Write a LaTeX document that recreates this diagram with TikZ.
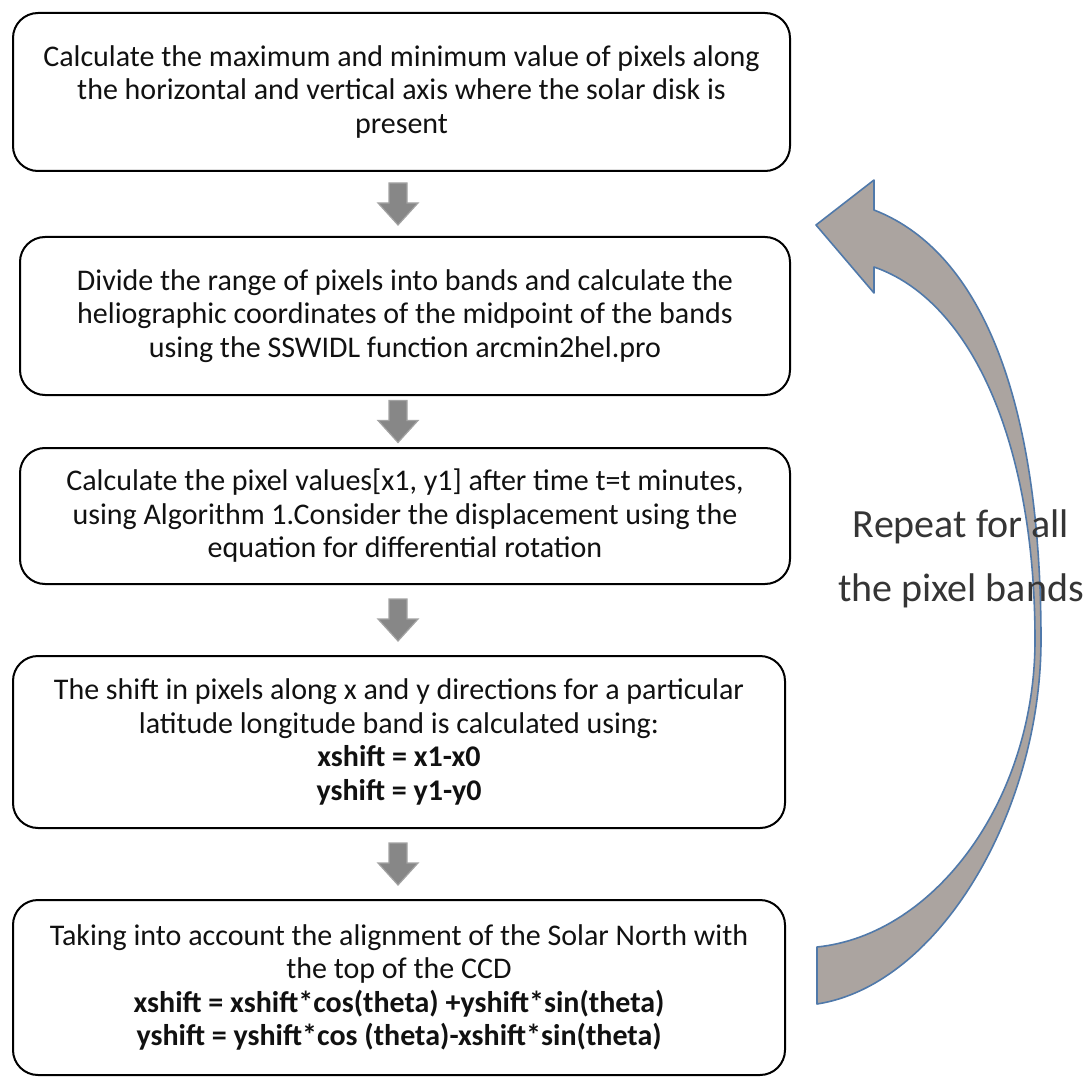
\documentclass[tikz,border=0pt]{standalone}
\usepackage{fontspec}
\setmainfont{Carlito}
\usetikzlibrary{calc}
\definecolor{txt}{HTML}{111111}
\definecolor{reptxt}{HTML}{353535}
\definecolor{blkarrow}{HTML}{878787}
\definecolor{blkedge}{HTML}{A3A3A3}
\definecolor{curvefill}{HTML}{ABA4A0}
\definecolor{curveedge}{HTML}{5079AA}
\tikzset{
  stepbox/.style={draw=black, line width=2pt, rounded corners=25pt,
    align=center, text=txt, inner sep=0pt,
    font=\fontsize{30}{33.5}\selectfont},
  blkstyle/.style={draw=blkedge, fill=blkarrow, line width=1.2pt, line join=miter},
  reptext/.style={align=center, text=reptxt, font=\fontsize{40}{64}\selectfont}
}
\newcommand\blockdown[1]{%
  \draw[blkstyle, shift={(#1)}] (-9,21) -- (9,21) -- (9,1) -- (20,1) -- (0,-21)
    -- (-20,1) -- (-9,1) -- cycle;}
\begin{document}
\begin{tikzpicture}[x=1pt,y=1pt]
\useasboundingbox (0,0) rectangle (1087,-1078);
% curved arrow
\coordinate (ctip) at (816,-225);
\draw[fill=curvefill, draw=curveedge, line width=1.6pt, line join=round]
  (817,-1004) .. controls (940,-985) and (1041,-810) .. (1041,-640)
  .. controls (1041,-420) and (990,-255) .. (874,-210)
  -- (874,-180) -- (ctip) -- (874,-293) -- (874,-267)
  .. controls (970,-300) and (1035,-440) .. (1035,-640)
  .. controls (1035,-800) and (935,-935) .. (817,-947) -- cycle;
\node[stepbox, minimum width=777pt, minimum height=158pt] (b1) at (401.5,-92)
  {Calculate the maximum and minimum value of pixels along\\
   the horizontal and vertical axis where the solar disk is\\
   present};
\node[stepbox, minimum width=770pt, minimum height=158pt] (b2) at (405,-316)
  {Divide the range of pixels into bands and calculate the\\
   heliographic coordinates of the midpoint of the bands\\
   using the SSWIDL function arcmin2hel.pro};
\node[stepbox, minimum width=770pt, minimum height=136pt] (b3) at (405,-516)
  {Calculate the pixel values[x1, y1] after time t=t minutes,\\
   using Algorithm 1.Consider the displacement using the\\
   equation for differential rotation};
\node[stepbox, minimum width=772pt, minimum height=172pt] (b4) at (399,-742)
  {The shift in pixels along x and y directions for a particular\\
   latitude longitude band is calculated using:\\
   \textbf{xshift = x1-x0}\\
   \textbf{yshift = y1-y0}};
\node[stepbox, minimum width=772pt, minimum height=175pt] (b5) at (399,-987.5)
  {Taking into account the alignment of the Solar North with\\
   the top of the CCD\\
   \textbf{xshift = xshift*cos(theta) +yshift*sin(theta)}\\
   \textbf{yshift = yshift*cos (theta)-xshift*sin(theta)}};
\coordinate (cx) at (398,0);
\coordinate (m1) at ($(b1.south)!0.5!(b2.north)$);
\coordinate (m2) at ($(b2.south)!0.5!(b3.north)$);
\coordinate (m3) at ($(b3.south)!0.5!(b4.north)$);
\coordinate (m4) at ($(b4.south)!0.5!(b5.north)$);
\coordinate (a1) at (m1 -| cx);
\coordinate (a2) at (m2 -| cx);
\coordinate (a3) at (m3 -| cx);
\coordinate (a4) at (m4 -| cx);
\blockdown{a1}
\blockdown{a2}
\blockdown{a3}
\blockdown{a4}
\node[reptext] (rep) at (961,-559) {Repeat for all\\the pixel bands};
\end{tikzpicture}
\end{document}
